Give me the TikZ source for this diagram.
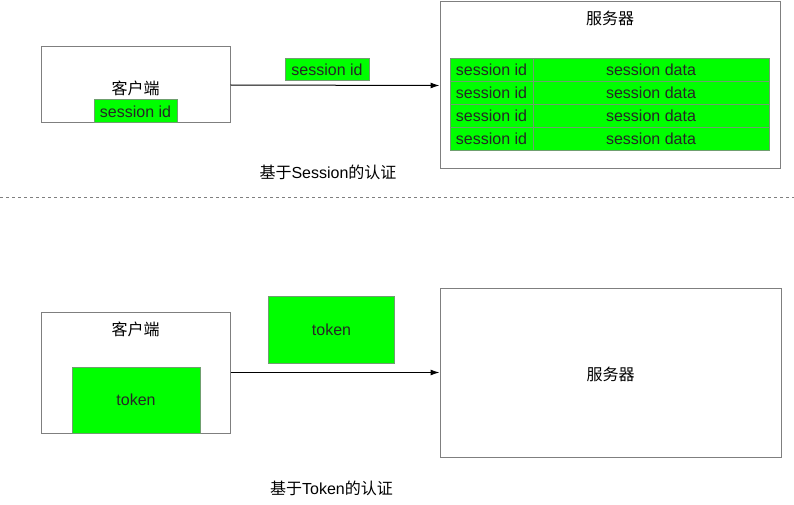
\documentclass[tikz,border=0pt]{standalone}
\usepackage{fontspec}
\setmainfont{Liberation Sans}
\newfontfamily\cjk{Noto Sans CJK SC}
\usepackage{tikz}
\usetikzlibrary{arrows.meta}
\definecolor{boxgray}{HTML}{7F7F7F}
\definecolor{cellgreen}{HTML}{00FF00}
\definecolor{cellline}{HTML}{6F9F6F}

\begin{document}
\begin{tikzpicture}[x=1pt,y=-1pt,line width=1pt,
  font=\fontsize{16}{19}\selectfont,
  box/.style={draw=boxgray,rectangle,inner sep=0pt},
  cell/.style={draw=cellline,fill=cellgreen,rectangle,inner sep=0pt,text=black!85},
  txt/.style={inner sep=0pt}]
\useasboundingbox (0,0) rectangle (794,505);

% session
\node[box,minimum width=189pt,minimum height=76pt] (cliA) at (135.5,85) {};
\node[txt] (cliAtxt) at (135.5,88) {\cjk 客户端};
\node[cell,minimum width=83pt,minimum height=23pt] (sidA) at (135.5,111.5) {session id};
\node[box,minimum width=340pt,minimum height=167pt] (srvA) at (610,85.5) {};
\node[txt] (srvAtxt) at (610,18) {\cjk 服务器};
\node[cell,minimum width=84pt,minimum height=22pt] (sidMsg) at (327,70) {session id};
\draw[-{Latex[length=9pt,width=6pt]}] (cliA.east) -- (srvA.west);
\foreach \r in {0,1,2,3} {
  \node[cell,minimum width=83pt,minimum height=23pt] (sid\r) at (491.5,69.8+23*\r) {session id};
  \node[cell,minimum width=236pt,minimum height=23pt] (sdata\r) at (651,69.8+23*\r) {session data};
}
\node[txt] (capA) at (328,172.5) {{\cjk 基于}Session{\cjk 的认证}};

\draw[boxgray,line width=0.8pt,dash pattern=on 3pt off 3pt] (0,197.5) -- (794,197.5);

% token
\node[box,minimum width=189pt,minimum height=121pt] (cliB) at (135.5,372.5) {};
\node[txt] (cliBtxt) at (135.5,329) {\cjk 客户端};
\node[cell,minimum width=128pt,minimum height=66pt] (tokB) at (136,400) {token};
\node[box,minimum width=341pt,minimum height=169pt] (srvB) at (610.5,372.5) {};
\node[txt] (srvBtxt) at (610.5,374) {\cjk 服务器};
\node[cell,minimum width=126pt,minimum height=67pt] (tokMsg) at (331.5,329.5) {token};
\draw[-{Latex[length=9pt,width=6pt]}] (cliB.east) -- (srvB.west);
\node[txt] (capB) at (331.5,488) {{\cjk 基于}Token{\cjk 的认证}};
\end{tikzpicture}
\end{document}
